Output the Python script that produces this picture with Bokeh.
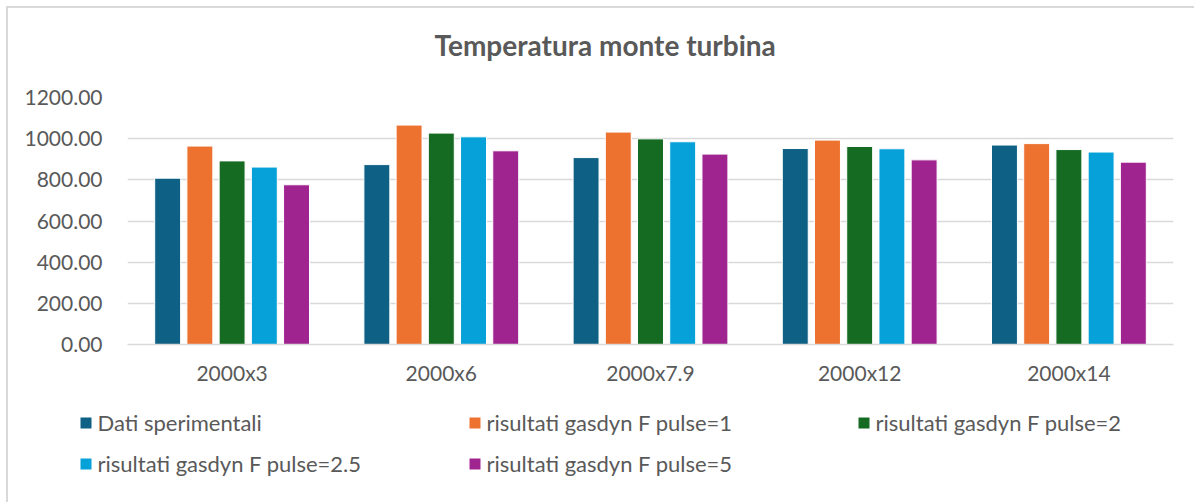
from bokeh.plotting import figure
from bokeh.layouts import column
from bokeh.models import (FactorRange, Range1d, FixedTicker, NumeralTickFormatter,
                          Legend, LegendItem, Title, ColumnDataSource)
from bokeh.transform import dodge
from bokeh.embed import file_html
from bokeh.resources import INLINE

# ---- data ----
categories = ["2000x3", "2000x6", "2000x7.9", "2000x12", "2000x14"]
series_names = [
    "Dati sperimentali",
    "risultati gasdyn F pulse=1",
    "risultati gasdyn F pulse=2",
    "risultati gasdyn F pulse=2.5",
    "risultati gasdyn F pulse=5",
]
dati_sperimentali = [808, 874, 908, 952, 969]
pulse_1 = [964, 1066, 1032, 993, 976]
pulse_2 = [892, 1027, 999, 962, 947]
pulse_2_5 = [862, 1009, 985, 951, 935]
pulse_5 = [776, 941, 925, 897, 886]
y_ticks = [0, 200, 400, 600, 800, 1000, 1200]
title_text = "Temperatura monte turbina"

# ---- styles ----
colors = ["#0E6084", "#ED7230", "#146B21", "#06A1D8", "#A02490"]
FONT = "Lato"
TXT = "#595959"
GRID = "#d9d9d9"

series_values = [dati_sperimentali, pulse_1, pulse_2, pulse_2_5, pulse_5]
keys = ["s0", "s1", "s2", "s3", "s4"]
data = {"cat": categories}
for k, v in zip(keys, series_values):
    data[k] = v
source = ColumnDataSource(data)

W = 1186
H_MAIN, H_LEG = 386, 108
p = figure(
    x_range=FactorRange(*categories, range_padding=0),
    y_range=Range1d(0, 1200),
    width=W, height=H_MAIN,
    output_backend="svg", toolbar_location=None,
    min_border_left=119, min_border_right=21,
    min_border_top=89, min_border_bottom=50,
)
p.outline_line_color = None
p.background_fill_color = "white"
p.border_fill_color = "white"

step = 0.154
offsets = [-2 * step, -step, 0, step, 2 * step]
for k, off, c in zip(keys, offsets, colors):
    p.vbar(x=dodge("cat", off, range=p.x_range), top=k, width=0.124,
           source=source, fill_color=c, line_color="white", line_width=1)

# axes
p.xgrid.grid_line_color = None
p.ygrid.grid_line_color = GRID
p.ygrid.grid_line_width = 1.5
p.yaxis.ticker = FixedTicker(ticks=y_ticks)
p.yaxis.formatter = NumeralTickFormatter(format="0.00")
p.yaxis.axis_line_color = None
p.yaxis.major_tick_line_color = None
p.yaxis.minor_tick_line_color = None
p.yaxis.major_tick_out = 0
p.yaxis.major_tick_in = 0
p.yaxis.major_label_standoff = 25
p.xaxis.axis_line_color = GRID
p.xaxis.axis_line_width = 1.5
p.xaxis.major_tick_line_color = None
p.xaxis.major_tick_out = 0
p.xaxis.major_tick_in = 0
p.xaxis.major_label_standoff = 15
for ax in (p.xaxis, p.yaxis):
    ax.major_label_text_font = FONT
    ax.major_label_text_font_size = "21px"
    ax.major_label_text_color = TXT

# title (spacer first, then the real title stacked above it)
p.add_layout(Title(text=" ", text_font_size="10px", standoff=23), "above")
p.add_layout(Title(text=title_text, align="left", offset=307, standoff=0,
                   text_font=FONT, text_font_size="28px",
                   text_font_style="bold", text_color=TXT), "above")

# legend figure
lf = figure(width=W, height=H_LEG, frame_width=W, frame_height=H_LEG,
            x_range=Range1d(0, 1), y_range=Range1d(0, 1),
            output_backend="svg", toolbar_location=None,
            x_axis_location=None, y_axis_location=None,
            min_border=0, min_border_left=0, min_border_right=0,
            min_border_top=0, min_border_bottom=0)
lf.grid.grid_line_color = None
lf.outline_line_color = None
lf.outline_line_alpha = 0
lf.background_fill_color = "white"
lf.border_fill_color = "white"
# legend swatches (their own bars lie outside the visible range)
leg_renderers = [lf.vbar(x=[-5], top=[-2], bottom=[-3], width=0.1, fill_color=c,
                         line_color="white", line_width=1) for c in colors]
items = [LegendItem(label=n, renderers=[r]) for n, r in zip(series_names, leg_renderers)]
legend = Legend(items=items, orientation="horizontal", ncols=3,
                location=(69.5, 25),
                glyph_width=15, glyph_height=15, label_standoff=5,
                label_width=355, label_height=24, spacing=14,
                padding=0, margin=0,
                label_text_font=FONT, label_text_font_size="22px",
                label_text_color=TXT,
                border_line_color=None, border_line_alpha=0,
                background_fill_alpha=0)
lf.add_layout(legend, "center")

layout = column(p, lf, spacing=0)
layout.styles = {"border-top": "2px solid #d9d9d9", "border-left": "2px solid #d9d9d9",
                 "margin-left": "6px", "margin-top": "6px"}

open("out.html", "w").write(file_html(layout, INLINE))
